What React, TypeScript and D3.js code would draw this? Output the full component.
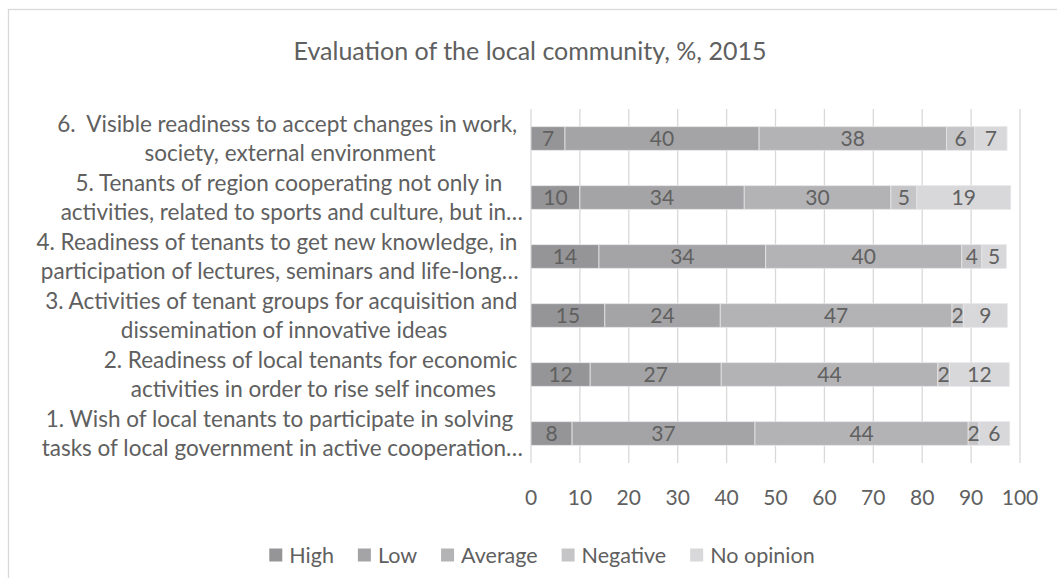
import { useEffect, useRef } from 'react'
import * as d3 from 'd3'

// rows from bottom (1) to top (6)
const categories = ['1', '2', '3', '4', '5', '6']
const categoryLines = [
  ['1. Wish of local tenants to participate in solving ', 'tasks of local government in active cooperation…'],
  ['2. Readiness of local tenants for economic ', 'activities in order to rise self incomes'],
  ['3. Activities of tenant groups for acquisition and ', 'dissemination of innovative ideas'],
  ['4. Readiness of tenants to get new knowledge, in ', 'participation of lectures, seminars and life-long…'],
  ['5. Tenants of region cooperating not only in ', 'activities, related to sports and culture, but in…'],
  ['6.  Visible readiness to accept changes in work, ', 'society, external environment'],
]

const seriesNames = ['High', 'Low', 'Average', 'Negative', 'No opinion']
const high = [8.4, 12.1, 15.1, 13.9, 10.0, 6.95]
const low = [37.4, 26.8, 23.6, 34.1, 33.6, 39.7]
const average = [43.6, 44.3, 47.4, 40.1, 30.0, 38.3]
const negative = [2.2, 2.4, 2.3, 4.1, 5.3, 5.8]
const noOpinion = [6.3, 12.2, 9.0, 5.0, 19.2, 6.6]
const seriesValues = [high, low, average, negative, noOpinion]
const seriesColors = ['#959597', '#a4a4a6', '#b3b3b5', '#c5c5c7', '#d8d8da']

const xTicks = [0, 10, 20, 30, 40, 50, 60, 70, 80, 90, 100]
const title = 'Evaluation of the local community, %, 2015'

const W = 1057
const H = 578
const FONT = 'Lato, "Noto Sans", sans-serif'
const TEXT = '#606060'

export default function App() {
  const svgRef = useRef<SVGSVGElement>(null)

  useEffect(() => {
    if (!svgRef.current) return
    const svg = d3.select(svgRef.current)
    svg.selectAll('*').remove()

    const plot = { left: 531, right: 1020, top: 109, bottom: 463 }

    const x = d3.scaleLinear().domain([0, 100]).range([plot.left, plot.right])
    const y = d3
      .scaleBand<string>()
      .domain([...categories].reverse())
      .range([plot.top, plot.bottom])
      .paddingInner(0.6)
      .paddingOuter(0.3)

    // chart frame
    svg
      .append('rect')
      .attr('x', 8.5)
      .attr('y', 9.5)
      .attr('width', 1200)
      .attr('height', 700)
      .attr('fill', '#fff')
      .attr('stroke', '#d9d9d9')
      .attr('stroke-width', 1.3)

    svg
      .append('text')
      .attr('x', 530)
      .attr('y', 60)
      .attr('text-anchor', 'middle')
      .attr('font-family', FONT)
      .attr('font-size', 25)
      .attr('fill', TEXT)
      .text(title)

    // gridlines
    svg
      .append('g')
      .selectAll('line')
      .data(xTicks)
      .enter()
      .append('line')
      .attr('x1', (d) => x(d))
      .attr('x2', (d) => x(d))
      .attr('y1', plot.top)
      .attr('y2', plot.bottom)
      .attr('stroke', '#d9d9d9')
      .attr('stroke-width', 1.3)

    // tick labels
    svg
      .append('g')
      .selectAll('text')
      .data(xTicks)
      .enter()
      .append('text')
      .attr('x', (d) => x(d))
      .attr('y', 497)
      .attr('dy', '0.36em')
      .attr('text-anchor', 'middle')
      .attr('font-family', FONT)
      .attr('font-size', 21)
      .attr('fill', TEXT)
      .text((d) => String(d))

    // stacked segments
    type Seg = { row: number; s: number; x0: number; x1: number; v: number }
    const segs: Seg[] = []
    categories.forEach((_, row) => {
      let acc = 0
      seriesValues.forEach((vals, s) => {
        segs.push({ row, s, x0: acc, x1: acc + vals[row], v: vals[row] })
        acc += vals[row]
      })
    })

    const bars = svg.append('g')
    bars
      .selectAll('rect')
      .data(segs)
      .enter()
      .append('rect')
      .attr('x', (d) => x(d.x0))
      .attr('y', (d) => y(categories[d.row]) || 0)
      .attr('width', (d) => x(d.x1) - x(d.x0))
      .attr('height', y.bandwidth())
      .attr('fill', (d) => seriesColors[d.s])
      .attr('stroke', '#e6e6e8')
      .attr('stroke-width', 0.8)

    bars
      .selectAll('text')
      .data(segs)
      .enter()
      .append('text')
      .attr('x', (d) => (x(d.x0) + x(d.x1)) / 2)
      .attr('y', (d) => (y(categories[d.row]) || 0) + y.bandwidth() / 2)
      .attr('dy', '0.36em')
      .attr('text-anchor', 'middle')
      .attr('font-family', FONT)
      .attr('font-size', 21)
      .attr('fill', TEXT)
      .text((d) => String(Math.round(d.v)))

    // category labels: right aligned block, lines centred within it
    const labelRight = 523
    const lineH = 29.5
    categoryLines.forEach((lines, row) => {
      const cy = (y(categories[row]) || 0) + y.bandwidth() / 2
      const g = svg.append('g')
      const texts = lines.map((line, i) =>
        g
          .append('text')
          .attr('xml:space', 'preserve')
          .style('white-space', 'pre')
          .attr('y', cy + (i - (lines.length - 1) / 2) * lineH)
          .attr('dy', '0.36em')
          .attr('text-anchor', 'middle')
          .attr('font-family', FONT)
          .attr('font-size', 22.5)
          .attr('fill', TEXT)
          .text(line)
      )
      const maxW = d3.max(texts, (t) => (t.node() as SVGTextElement).getComputedTextLength()) || 0
      texts.forEach((t) => t.attr('x', labelRight - maxW / 2))
    })

    // legend
    const legend = svg.append('g')
    const sq = 13
    const gapText = 7
    const gapItem = 24
    const items = seriesNames.map((name, i) => {
      const t = legend
        .append('text')
        .attr('y', 555)
        .attr('dy', '0.36em')
        .attr('font-family', FONT)
        .attr('font-size', 21.5)
        .attr('fill', TEXT)
        .text(name)
      const w = (t.node() as SVGTextElement).getComputedTextLength()
      return { t, w, i }
    })
    const total =
      d3.sum(items, (d) => sq + gapText + d.w) + gapItem * (items.length - 1)
    let lx = 542 - total / 2
    items.forEach((d) => {
      legend
        .append('rect')
        .attr('x', lx)
        .attr('y', 555 - sq / 2)
        .attr('width', sq)
        .attr('height', sq)
        .attr('fill', seriesColors[d.i])
      d.t.attr('x', lx + sq + gapText)
      lx += sq + gapText + d.w + gapItem
    })
  }, [])

  return (
    <svg
      ref={svgRef}
      width={W}
      height={H}
      style={{ position: 'absolute', left: 0, top: 0, display: 'block' }}
    />
  )
}
